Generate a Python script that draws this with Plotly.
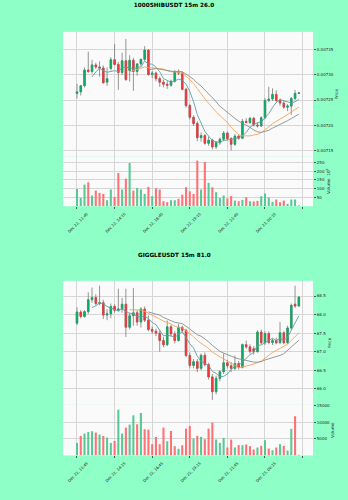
import pandas as pd
import plotly.graph_objects as go

# ---------------- data ----------------
tick_index = [0, 10, 20, 30, 40, 50]
tick_labels = ["Dec 22, 11:45", "Dec 22, 14:15", "Dec 22, 16:45",
               "Dec 22, 19:15", "Dec 22, 21:45", "Dec 23, 00:15"]
extra_tick_index = [60]   # unlabeled tick beyond the last candle

shib_title = "1000SHIBUSDT 15m 26.0"
shib_open = [0.007263, 0.007266, 0.007278, 0.007309, 0.007306, 0.007319, 0.007315, 0.007313, 0.007285, 0.007312,
             0.007329, 0.007320, 0.007304, 0.007327, 0.007308, 0.007328, 0.007306, 0.007321, 0.007330, 0.007348,
             0.007300, 0.007303, 0.007292, 0.007285, 0.007281, 0.007279, 0.007287, 0.007305, 0.007303, 0.007271,
             0.007239, 0.007216, 0.007204, 0.007176, 0.007180, 0.007165, 0.007171, 0.007158, 0.007166, 0.007173,
             0.007185, 0.007174, 0.007163, 0.007179, 0.007175, 0.007208, 0.007206, 0.007214, 0.007201, 0.007199,
             0.007215, 0.007249, 0.007252, 0.007261, 0.007249, 0.007244, 0.007236, 0.007238, 0.007253, 0.007263]
shib_high = [0.007282, 0.007279, 0.007314, 0.007345, 0.007329, 0.007323, 0.007326, 0.007318, 0.007314, 0.007334,
             0.007360, 0.007325, 0.007343, 0.007370, 0.007338, 0.007333, 0.007322, 0.007331, 0.007356, 0.007350,
             0.007307, 0.007306, 0.007296, 0.007290, 0.007287, 0.007290, 0.007309, 0.007310, 0.007306, 0.007274,
             0.007242, 0.007220, 0.007208, 0.007186, 0.007183, 0.007178, 0.007174, 0.007169, 0.007176, 0.007189,
             0.007188, 0.007177, 0.007183, 0.007182, 0.007213, 0.007214, 0.007217, 0.007217, 0.007206, 0.007218,
             0.007254, 0.007276, 0.007273, 0.007269, 0.007253, 0.007248, 0.007242, 0.007256, 0.007270, 0.007266]
shib_low = [0.007253, 0.007259, 0.007275, 0.007303, 0.007302, 0.007311, 0.007296, 0.007282, 0.007278, 0.007308,
            0.007318, 0.007270, 0.007299, 0.007288, 0.007286, 0.007268, 0.007298, 0.007317, 0.007327, 0.007298,
            0.007293, 0.007287, 0.007276, 0.007275, 0.007272, 0.007276, 0.007284, 0.007299, 0.007269, 0.007235,
            0.007212, 0.007199, 0.007169, 0.007168, 0.007162, 0.007160, 0.007153, 0.007154, 0.007162, 0.007169,
            0.007171, 0.007151, 0.007160, 0.007172, 0.007173, 0.007204, 0.007203, 0.007198, 0.007196, 0.007197,
            0.007212, 0.007246, 0.007248, 0.007246, 0.007239, 0.007233, 0.007228, 0.007221, 0.007250, 0.007262]
shib_close = [0.007266, 0.007278, 0.007309, 0.007306, 0.007319, 0.007315, 0.007313, 0.007284, 0.007292, 0.007329,
              0.007320, 0.007304, 0.007327, 0.007290, 0.007328, 0.007306, 0.007321, 0.007330, 0.007348, 0.007300,
              0.007303, 0.007292, 0.007285, 0.007281, 0.007279, 0.007287, 0.007305, 0.007303, 0.007271, 0.007239,
              0.007216, 0.007204, 0.007176, 0.007180, 0.007165, 0.007171, 0.007158, 0.007166, 0.007173, 0.007185,
              0.007174, 0.007163, 0.007179, 0.007175, 0.007208, 0.007206, 0.007214, 0.007201, 0.007199, 0.007215,
              0.007249, 0.007252, 0.007261, 0.007249, 0.007244, 0.007236, 0.007238, 0.007253, 0.007263, 0.007264]
shib_volume = [98, 47, 123, 136, 61, 89, 76, 70, 34, 95,
               53, 189, 95, 157, 246, 89, 104, 95, 70, 110,
               57, 102, 95, 28, 23, 34, 34, 42, 66, 108,
               85, 70, 260, 95, 252, 133, 108, 80, 47, 61,
               44, 57, 32, 28, 36, 51, 28, 27, 30, 57,
               72, 49, 25, 38, 22, 32, 13, 38, 38, 4]   # x 10^6

giggle_title = "GIGGLEUSDT 15m 81.0"
giggle_open = [67.77, 68.07, 67.95, 68.08, 68.40, 68.46, 68.30, 68.32, 67.99, 68.02,
               68.22, 68.12, 68.15, 68.28, 67.66, 67.97, 68.05, 67.80, 68.15, 67.85,
               67.60, 67.55, 67.50, 67.30, 67.19, 67.67, 67.48, 67.30, 67.66, 67.58,
               66.90, 66.63, 66.73, 66.55, 66.90, 66.65, 66.32, 65.92, 66.28, 66.46,
               66.70, 66.62, 66.55, 66.68, 66.58, 67.19, 67.13, 67.08, 67.00, 67.53,
               67.24, 67.49, 67.25, 67.30, 67.24, 67.51, 67.24, 67.64, 68.28, 68.23]
giggle_high = [68.20, 68.12, 68.12, 68.60, 68.73, 68.55, 68.78, 68.40, 68.15, 68.30,
               68.28, 68.70, 68.45, 68.70, 68.05, 68.72, 68.12, 68.20, 68.22, 67.98,
               67.68, 67.62, 67.58, 67.40, 67.84, 67.72, 67.55, 67.75, 67.70, 67.62,
               66.98, 66.80, 66.80, 66.95, 66.98, 66.70, 66.40, 66.35, 66.50, 66.95,
               66.78, 66.72, 66.90, 66.75, 67.22, 67.30, 67.20, 67.15, 67.58, 67.60,
               67.55, 67.55, 67.35, 67.38, 67.80, 67.55, 67.70, 68.30, 68.78, 68.50]
giggle_low = [67.72, 67.90, 67.92, 68.02, 68.32, 68.25, 68.25, 67.88, 67.85, 67.90,
              68.05, 68.08, 68.05, 67.40, 67.60, 67.70, 67.70, 67.65, 67.80, 67.55,
              67.48, 67.42, 67.00, 67.12, 67.15, 67.40, 67.22, 67.28, 67.50, 66.85,
              66.55, 66.55, 66.45, 66.50, 66.60, 66.25, 65.70, 65.85, 66.20, 66.40,
              66.55, 66.45, 66.50, 66.52, 66.55, 67.08, 66.95, 66.92, 66.98, 67.20,
              67.18, 67.20, 67.18, 67.20, 67.22, 67.20, 67.20, 67.60, 68.18, 68.22]
giggle_close = [68.07, 67.95, 68.08, 68.40, 68.46, 68.30, 68.32, 67.99, 68.02, 68.22,
                68.12, 68.15, 68.28, 67.66, 67.97, 68.05, 67.80, 68.15, 67.85, 67.60,
                67.55, 67.50, 67.30, 67.19, 67.67, 67.48, 67.30, 67.66, 67.58, 66.90,
                66.63, 66.73, 66.55, 66.90, 66.65, 66.32, 65.92, 66.28, 66.46, 66.70,
                66.62, 66.55, 66.68, 66.58, 67.19, 67.13, 67.01, 67.00, 67.53, 67.24,
                67.49, 67.25, 67.30, 67.24, 67.51, 67.24, 67.64, 68.25, 68.23, 68.47]
giggle_volume = [3780, 5870, 6590, 7080, 7280, 6880, 6290, 5870, 5380, 3780,
                 4380, 13770, 6590, 8380, 9280, 12070, 9380, 12770, 7880, 7780,
                 3380, 5580, 3380, 8380, 4280, 7380, 2780, 2000, 3080, 8080,
                 8880, 5090, 5870, 5580, 4880, 8080, 9880, 4790, 3780, 5290,
                 2390, 4790, 2400, 3100, 3100, 3300, 2800, 1800, 2400, 2900,
                 4600, 2100, 1600, 2400, 3400, 2900, 1500, 8000, 11800, 150]

ma_periods = [5, 15, 20]

# ---------------- style ----------------
W, H = 348, 500
FIG_BG = "#8fffc8"
AX_BG = "#fafafa"
GRID = "#d6d6d6"
UP, DOWN = "#00b060", "#fe3032"
VUP, VDOWN = "#4dc790", "#fd6b6c"
WICK = "#7a7a7a"
MA_COLORS = ["#5f9ea0", "#f4a460", "#8c8c8c"]
FONT = "DejaVu Sans"
X_DOM = [63 / W, 313 / W]
X_RANGE = [-3.72, 62.77]
TITLE_FONT = dict(family=FONT, size=5.7, color="#000")


def dom(top_px, bottom_px):
    return [1 - bottom_px / H, 1 - top_px / H]


fig = go.Figure()


def add_chart(idx, o, h, l, c, v, price_rows, vol_rows,
              price_range, price_ticks, price_fmt, vol_range, vol_ticks, vol_label):
    n_p = 2 * idx - 1
    n_v = 2 * idx
    xp = "x" if n_p == 1 else f"x{n_p}"
    yp = "y" if n_p == 1 else f"y{n_p}"
    xv, yv = f"x{n_v}", f"y{n_v}"
    xs = list(range(len(c)))

    # wicks (gray)
    fig.add_trace(go.Candlestick(
        x=xs, open=o, high=h, low=l, close=c, xaxis=xp, yaxis=yp,
        increasing=dict(line=dict(color=WICK, width=0.8), fillcolor=WICK),
        decreasing=dict(line=dict(color=WICK, width=0.8), fillcolor=WICK),
        whiskerwidth=0, showlegend=False, hoverinfo="skip"))
    # bodies (colored)
    body_hi = [max(a, b) for a, b in zip(o, c)]
    body_lo = [min(a, b) for a, b in zip(o, c)]
    fig.add_trace(go.Candlestick(
        x=xs, open=o, high=body_hi, low=body_lo, close=c, xaxis=xp, yaxis=yp,
        increasing=dict(line=dict(color=UP, width=0.5), fillcolor=UP),
        decreasing=dict(line=dict(color=DOWN, width=0.5), fillcolor=DOWN),
        whiskerwidth=0, opacity=0.9, showlegend=False, hoverinfo="skip"))
    # moving averages
    cs = pd.Series(c)
    for p, col in zip(ma_periods, MA_COLORS):
        fig.add_trace(go.Scatter(x=xs, y=cs.rolling(p).mean(), mode="lines",
                                 line=dict(color=col, width=0.9), xaxis=xp, yaxis=yp,
                                 showlegend=False, hoverinfo="skip"))
    # volume (colour by close vs previous close)
    vcol = []
    for i in range(len(c)):
        ref = o[0] if i == 0 else c[i - 1]
        vcol.append(VUP if c[i] >= ref else VDOWN)
    fig.add_trace(go.Bar(x=xs, y=v, marker=dict(color=vcol, line=dict(width=0)),
                         width=0.55, opacity=0.95, xaxis=xv, yaxis=yv,
                         showlegend=False, hoverinfo="skip"))

    common_x = dict(domain=X_DOM, range=X_RANGE, tickmode="array", tickvals=tick_index,
                    showgrid=True, gridcolor=GRID, gridwidth=0.7, zeroline=False,
                    showline=False)
    tick_font = dict(family=FONT, size=4, color="#222")
    fig.update_layout(**{
        ("xaxis" if n_p == 1 else f"xaxis{n_p}"): dict(
            common_x, anchor=yp, showticklabels=False, ticks="",
            minor=dict(tickvals=extra_tick_index, showgrid=True, gridcolor=GRID,
                       gridwidth=0.7, ticks=""),
            rangeslider=dict(visible=False)),
        f"xaxis{n_v}": dict(
            common_x, anchor=yv, ticktext=tick_labels, tickangle=-45,
            ticks="outside", ticklen=2, tickwidth=0.6, tickcolor="#555",
            minor=dict(tickvals=extra_tick_index, showgrid=True, gridcolor=GRID,
                       gridwidth=0.7, ticks="outside", ticklen=2, tickwidth=0.6,
                       tickcolor="#555"),
            tickfont=dict(family=FONT, size=3.8, color="#222"),
            ticklabelshift=10, ticklabelstandoff=1),
        ("yaxis" if n_p == 1 else f"yaxis{n_p}"): dict(
            domain=dom(*price_rows), anchor=xp, side="right", range=price_range,
            tickmode="array", tickvals=price_ticks, tickformat=price_fmt,
            ticks="outside", ticklen=2, tickwidth=0.6, tickcolor="#555",
            tickfont=tick_font, showgrid=True, gridcolor=GRID, gridwidth=0.7,
            zeroline=False, showline=False,
            title=dict(text="Price", font=dict(family=FONT, size=4.2, color="#222"), standoff=2)),
        f"yaxis{n_v}": dict(
            domain=dom(*vol_rows), anchor=xv, side="right", range=vol_range,
            tickmode="array", tickvals=vol_ticks, tickformat="d",
            ticks="outside", ticklen=2, tickwidth=0.6, tickcolor="#555",
            tickfont=tick_font, showgrid=True, gridcolor=GRID, gridwidth=0.7,
            zeroline=False, showline=False,
            title=dict(text=vol_label, font=dict(family=FONT, size=4.2, color="#222"), standoff=2)),
    })


add_chart(1, shib_open, shib_high, shib_low, shib_close, shib_volume,
          (30, 155), (155, 205),
          [0.0071392, 0.0073839], [0.00715, 0.0072, 0.00725, 0.0073, 0.00735], ".5f",
          [0, 284], [50, 100, 150, 200, 250], "Volume  10<sup>6</sup>")
add_chart(2, giggle_open, giggle_high, giggle_low, giggle_close, giggle_volume,
          (280, 404.5), (404.5, 455.3),
          [65.565, 68.91], [66.0, 66.5, 67.0, 67.5, 68.0, 68.5], ".1f",
          [0, 15210], [5000, 10000, 15000], "Volume")

fig.add_annotation(text=f"<b>{giggle_title}</b>", xref="paper", yref="paper",
                   x=0.5, y=1 - 254.5 / H, xanchor="center", yanchor="middle",
                   showarrow=False, font=TITLE_FONT)

fig.update_layout(width=W, height=H, margin=dict(l=0, r=0, t=0, b=0),
                  title=dict(text=f"<b>{shib_title}</b>", x=0.5, xanchor="center",
                             y=1 - 4.7 / H, yanchor="middle", xref="paper", yref="container",
                             font=TITLE_FONT),
                  paper_bgcolor=FIG_BG, plot_bgcolor=AX_BG, boxgap=0.4,
                  showlegend=False, font=dict(family=FONT))

fig.write_html("out.html", config={"displayModeBar": False})
